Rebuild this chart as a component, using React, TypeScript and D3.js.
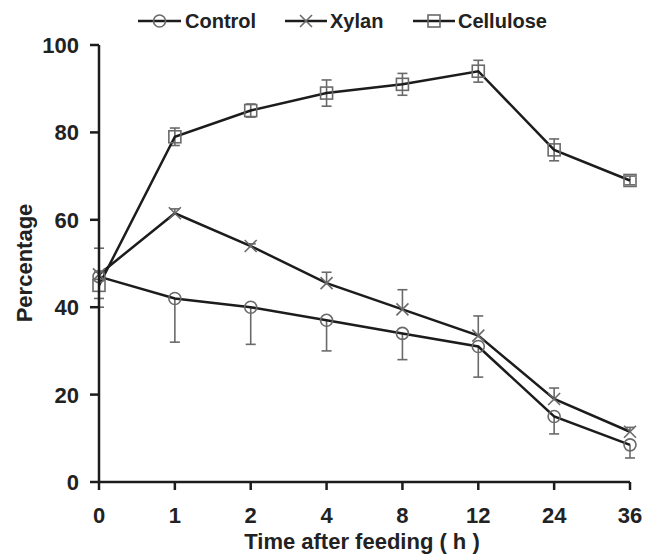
import React from "react";
import * as d3 from "d3";

const categories = ["0", "1", "2", "4", "8", "12", "24", "36"];
const yTicks = [0, 20, 40, 60, 80, 100];
const controlValues = [47, 42, 40, 37, 34, 31, 15, 8.5];
const controlErrLow = [7, 10, 8.5, 7, 6, 7, 4, 3];
const xylanValues = [47.5, 61.5, 54, 45.5, 39.5, 33.5, 19, 11.5];
const xylanErrHigh = [6, 1, 0.5, 2.5, 4.5, 4.5, 2.5, 1];
const celluloseValues = [45, 79, 85, 89, 91, 94, 76, 69];
const celluloseErr = [3, 2, 1.5, 3, 2.5, 2.5, 2.5, 1];
const legendLabels = ["Control", "Xylan", "Cellulose"];

const FONT = "'Liberation Sans', Arial, Helvetica, sans-serif";
const LINE = "#1c1c1c";
const MARK = "#6a6a6a";

function Marker({ kind, x, y }: { kind: string; x: number; y: number }) {
  const s = 6;
  if (kind === "circle")
    return <circle cx={x} cy={y} r={s} fill="none" stroke={MARK} strokeWidth={1.6} />;
  if (kind === "square")
    return <rect x={x - s} y={y - s} width={2 * s} height={2 * s} fill="none" stroke={MARK} strokeWidth={1.6} />;
  return (
    <g stroke={MARK} strokeWidth={1.6}>
      <line x1={x - s} y1={y - s} x2={x + s} y2={y + s} />
      <line x1={x - s} y1={y + s} x2={x + s} y2={y - s} />
    </g>
  );
}

export default function App() {
  const x = d3.scalePoint<string>().domain(categories).range([99, 630]);
  const y = d3.scaleLinear().domain([0, 100]).range([482, 45]);
  const line = d3
    .line<number>()
    .x((_, i) => x(categories[i]) as number)
    .y((d) => y(d));

  const series = [
    { name: "Cellulose", values: celluloseValues, lo: celluloseErr, hi: celluloseErr, kind: "square" },
    { name: "Xylan", values: xylanValues, lo: xylanValues.map(() => 0), hi: xylanErrHigh, kind: "x" },
    { name: "Control", values: controlValues, lo: controlErrLow, hi: controlValues.map(() => 0), kind: "circle" },
  ];

  const cap = 5;
  const legendPos = [
    { x0: 138, x1: 181, tx: 185, kind: "circle" },
    { x0: 285, x1: 327, tx: 330, kind: "x" },
    { x0: 413, x1: 455, tx: 458, kind: "square" },
  ];

  return (
    <svg width={656} height={556} style={{ position: "absolute", left: 0, top: 0, background: "#fff" }}>
      <rect width={656} height={556} fill="#fff" />
      {/* legend */}
      {legendLabels.map((lab, i) => {
        const p = legendPos[i];
        return (
          <g key={lab}>
            <line x1={p.x0} x2={p.x1} y1={21} y2={21} stroke={LINE} strokeWidth={2.5} />
            <Marker kind={p.kind} x={(p.x0 + p.x1) / 2} y={21} />
            <text x={p.tx} y={28} fontFamily={FONT} fontWeight="bold" fontSize={20} fill="#222">
              {lab}
            </text>
          </g>
        );
      })}
      {/* error bars */}
      {series.map((s) =>
        s.values.map((v, i) => {
          const cx = x(categories[i]) as number;
          const els = [];
          if (s.hi[i] > 0) {
            els.push(
              <g key={s.name + "h" + i} stroke={MARK} strokeWidth={1.6}>
                <line x1={cx} x2={cx} y1={y(v)} y2={y(v + s.hi[i])} />
                <line x1={cx - cap} x2={cx + cap} y1={y(v + s.hi[i])} y2={y(v + s.hi[i])} />
              </g>
            );
          }
          if (s.lo[i] > 0) {
            els.push(
              <g key={s.name + "l" + i} stroke={MARK} strokeWidth={1.6}>
                <line x1={cx} x2={cx} y1={y(v)} y2={y(v - s.lo[i])} />
                <line x1={cx - cap} x2={cx + cap} y1={y(v - s.lo[i])} y2={y(v - s.lo[i])} />
              </g>
            );
          }
          return els;
        })
      )}
      {/* lines */}
      {series.map((s) => (
        <path key={s.name} d={line(s.values) || ""} fill="none" stroke={LINE} strokeWidth={2.5} />
      ))}
      {/* markers */}
      {series.map((s) =>
        s.values.map((v, i) => (
          <Marker key={s.name + "m" + i} kind={s.kind} x={x(categories[i]) as number} y={y(v)} />
        ))
      )}
      {/* axes */}
      <g stroke={LINE} strokeWidth={2.5}>
        <line x1={99} x2={99} y1={y(100)} y2={y(0)} />
        <line x1={99} x2={630} y1={y(0)} y2={y(0)} />
        {yTicks.map((t) => (
          <line key={"yt" + t} x1={90} x2={99} y1={y(t)} y2={y(t)} />
        ))}
        {categories.map((c) => (
          <line key={"xt" + c} x1={x(c) as number} x2={x(c) as number} y1={y(0)} y2={y(0) + 8} />
        ))}
      </g>
      {yTicks.map((t) => (
        <text key={"yl" + t} x={79} y={y(t) + 8} textAnchor="end" fontFamily={FONT} fontWeight="bold" fontSize={22} fill="#222">
          {t}
        </text>
      ))}
      {categories.map((c) => (
        <text key={"xl" + c} x={x(c) as number} y={523} textAnchor="middle" fontFamily={FONT} fontWeight="bold" fontSize={22} fill="#222">
          {c}
        </text>
      ))}
      <text x={362} y={549} textAnchor="middle" fontFamily={FONT} fontWeight="bold" fontSize={22} fill="#222">
        Time after feeding ( h )
      </text>
      <text
        transform={`translate(32,${263}) rotate(-90)`}
        textAnchor="middle"
        fontFamily={FONT}
        fontWeight="bold"
        fontSize={22}
        fill="#222"
      >
        Percentage
      </text>
    </svg>
  );
}
